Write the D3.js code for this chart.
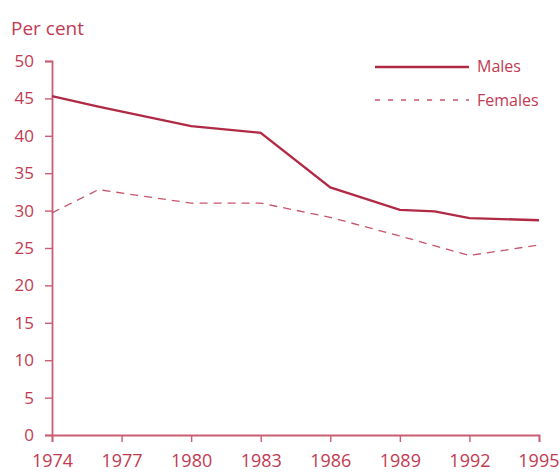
<!DOCTYPE html>
<html>
<head>
<meta charset="utf-8">
<script src="https://cdn.jsdelivr.net/npm/d3@7"></script>
<style>
  body { margin: 0; background: #fff; }
  svg text { font-family: "Open Sans", sans-serif; fill: #c23a52; }
</style>
</head>
<body>
<div id="chart"></div>
<script>
// values
const maleYears = [1974, 1976, 1980, 1983, 1986, 1987, 1989, 1990.5, 1992, 1995];
const maleValues = [45.3, 43.9, 41.3, 40.4, 33.1, 32.1, 30.1, 29.9, 29.0, 28.7];
const femaleYears = [1974, 1976, 1980, 1983, 1986, 1989, 1992, 1995];
const femaleValues = [29.7, 32.8, 31.0, 31.0, 29.1, 26.6, 24.0, 25.4];
const xTicks = [1974, 1977, 1980, 1983, 1986, 1989, 1992, 1995];
const yTicks = [0, 5, 10, 15, 20, 25, 30, 35, 40, 45, 50];

const W = 560, H = 474;
let margin = { top: 61, bottom: 39, left: 52, right: 21 };
let width = W - margin.left - margin.right,
    height = H - margin.top - margin.bottom;

const axisColor = '#c95d72';
const lineColor = '#b12a45';

let svg = d3.select('#chart').append('svg')
    .attr('width', W)
    .attr('height', H);

let g = svg.append('g')
    .attr('transform', `translate(${margin.left},${margin.top})`);

let xscale = d3.scaleLinear().domain([1974, 1995]).range([0, width]);
let yscale = d3.scaleLinear().domain([0, 50]).range([height, 0]);

// Axes
let g_yaxis = g.append('g')
    .call(d3.axisLeft(yscale).tickValues(yTicks).tickSize(7).tickPadding(11));
let g_xaxis = g.append('g')
    .attr('transform', `translate(0,${height})`)
    .call(d3.axisBottom(xscale).tickValues(xTicks).tickFormat(d3.format('d')).tickSize(7).tickPadding(12));

[g_xaxis, g_yaxis].forEach(ax => {
    ax.select('.domain').attr('stroke', axisColor).attr('stroke-width', 1.8);
    ax.selectAll('.tick line').attr('stroke', axisColor).attr('stroke-width', 1.4);
    ax.selectAll('.tick text')
        .attr('fill', '#c23a52')
        .style('font-size', '17px')
        .style('font-family', '"Open Sans", sans-serif');
});
g_xaxis.selectAll('.tick text').style('font-size', '18px');
// keep the last year label inside the page
g_xaxis.selectAll('.tick text')
    .filter(d => d === 1995)
    .attr('text-anchor', 'end')
    .attr('x', W - 1 - margin.left - width);

svg.append('text')
    .attr('x', 11)
    .attr('y', 35)
    .style('font-size', '19px')
    .text('Per cent');

// Lines
let line = d3.line().x(d => xscale(d[0])).y(d => yscale(d[1]));

g.append('path')
    .datum(femaleYears.map((y, i) => [y, femaleValues[i]]))
    .attr('fill', 'none')
    .attr('stroke', '#c7546b')
    .attr('stroke-width', 1.3)
    .attr('stroke-dasharray', '8,6')
    .attr('d', line);

g.append('path')
    .datum(maleYears.map((y, i) => [y, maleValues[i]]))
    .attr('fill', 'none')
    .attr('stroke', lineColor)
    .attr('stroke-width', 2.4)
    .attr('d', line);

// Legend
let legend = svg.append('g');
legend.append('line')
    .attr('x1', 375).attr('x2', 469).attr('y1', 67).attr('y2', 67)
    .attr('stroke', lineColor).attr('stroke-width', 2.4);
legend.append('text')
    .attr('x', 477).attr('y', 72)
    .style('font-size', '16px')
    .text('Males');
legend.append('line')
    .attr('x1', 375).attr('x2', 469).attr('y1', 100).attr('y2', 100)
    .attr('stroke', '#c7546b').attr('stroke-width', 1.3)
    .attr('stroke-dasharray', '5,8');
legend.append('text')
    .attr('x', 477).attr('y', 106)
    .style('font-size', '16px')
    .text('Females');
</script>
</body>
</html>
